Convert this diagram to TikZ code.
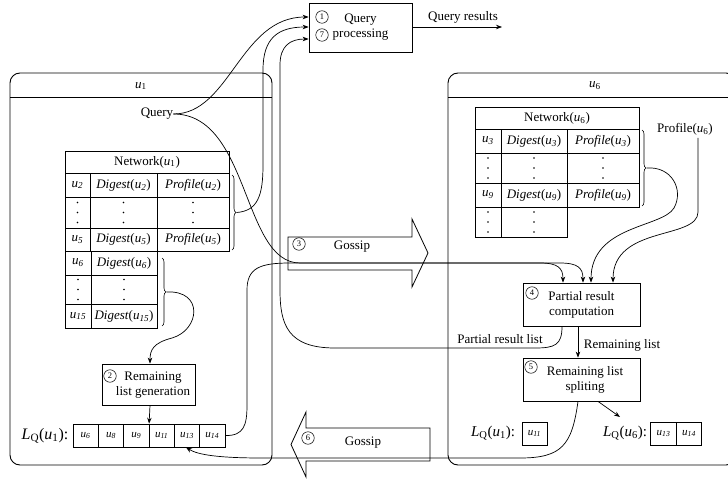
\documentclass[tikz,border=0pt]{standalone}
\usepackage{fontspec}
\setmainfont{Liberation Serif}
\usetikzlibrary{arrows.meta,decorations.pathreplacing,calc}
\newcommand{\ui}[1]{\textit{u}\textsubscript{#1}}
\newcommand{\iu}[1]{\textit{u\textsubscript{#1}}}
\newcommand{\cellnode}[6]{\node[cellbox, minimum width=#4, minimum height=#5] (#1) at (#2,#3) {#6};}
\newcommand{\dotcol}[2]{\fill (#1,#2-10) circle (0.9) (#1,#2) circle (0.9) (#1,#2+10) circle (0.9);}
\newcommand{\LQ}[1]{\textit{L}\textsubscript{Q}(\textit{u}\textsubscript{#1}):}
\begin{document}
\begin{tikzpicture}[x=1pt,y=-1pt,
 every node/.append style={font=\fontsize{13}{15}\selectfont, inner sep=0pt},
 cellbox/.style={draw, line width=0.7pt, inner sep=0pt},
 procbox/.style={draw, line width=0.8pt, inner sep=0pt, align=center},
 conn/.style={line width=0.7pt},
 arr/.style={line width=0.7pt, -{Stealth[length=6pt,width=4.5pt]}},
 num/.style={circle, draw, line width=0.5pt, inner sep=0pt, minimum size=12.5pt, font=\fontsize{8.5}{8.5}\selectfont},
 brc/.style={decorate, decoration={brace, amplitude=4pt}, line width=0.6pt},
 frame/.style={line width=0.9pt, rounded corners=10pt},
 gossip/.style={line width=0.8pt, line join=miter}]

\useasboundingbox (0,0) rectangle (728,481);

% ---------- frames ----------
\draw[frame] (10,73) rectangle (272,465);
\draw[line width=0.9pt] (10,97) -- (272,97);
\node (u1lab) at (141,86) {\ui{1}};

\draw[frame] (448,73) rectangle (736,465);
\draw[line width=0.9pt] (448,97) -- (728,97);
\node (u6lab) at (595,86) {\ui{6}};

% ---------- Query processing ----------
\node[procbox, minimum width=103, minimum height=49] (qp) at (360.5,27.5) {Query\\processing};
\node[num] (c1) at (322,17) {1};
\node[num] (c7) at (322,35) {7};
\coordinate (qr) at (502,27);
\draw[arr] ([yshift=0.5pt]qp.east) -- (qr);
\node (qrl) at (463,17) {Query results};

% ---------- Network(u1) table ----------
\cellnode{nh}{147}{162}{164}{22}{Network(\ui{1})}
\cellnode{na1}{77.5}{185}{25}{24}{\iu{2}}
\cellnode{na2}{123.5}{185}{67}{24}{\textit{Digest}(\iu{2})}
\cellnode{na3}{193}{185}{72}{24}{\textit{Profile}(\iu{2})}
\cellnode{nb1}{77.5}{212.5}{25}{31}{}
\cellnode{nb2}{123.5}{212.5}{67}{31}{}
\cellnode{nb3}{193}{212.5}{72}{31}{}
\dotcol{77.5}{212.5}\dotcol{123.5}{212.5}\dotcol{193}{212.5}
\cellnode{nc1}{77.5}{239.5}{25}{23}{\iu{5}}
\cellnode{nc2}{123.5}{239.5}{67}{23}{\textit{Digest}(\iu{5})}
\cellnode{nc3}{193}{239.5}{72}{23}{\textit{Profile}(\iu{5})}
\cellnode{nd1}{78}{263}{26}{24}{\iu{6}}
\cellnode{nd2}{124}{263}{66}{24}{\textit{Digest}(\iu{6})}
\cellnode{ne1}{78}{289.5}{26}{29}{}
\cellnode{ne2}{124}{289.5}{66}{29}{}
\dotcol{78}{289.5}\dotcol{124}{289.5}
\cellnode{nf1}{78}{316}{26}{24}{\iu{15}}
\cellnode{nf2}{124}{316}{66}{24}{\textit{Digest}(\iu{15})}

\draw[brc] (232,175) -- (232,250);
\coordinate (tipA) at (236.5,212.5);
\draw[brc] (162,258) -- (162,326);
\coordinate (tipB) at (166.5,292);

% ---------- Query ----------
\node (q) at (157,114) {Query};

% ---------- Remaining list generation ----------
\node[procbox, minimum width=93, minimum height=41] (rlg) at (148.5,384.5) {};
\node[align=center] (rlgt) at (153,385) {Remaining\\list generation};
\node[num] (c2) at (110,376) {2};

% ---------- LQ(u1) list ----------
\node (lq1) at (45,436) {\fontsize{16}{16}\selectfont\LQ{1}};
\cellnode{l1}{85.6}{435.5}{25.3}{23}{\fontsize{11}{11}\selectfont\iu{6}}
\cellnode{l2}{111}{435.5}{25.3}{23}{\fontsize{11}{11}\selectfont\iu{8}}
\cellnode{l3}{136.3}{435.5}{25.3}{23}{\fontsize{11}{11}\selectfont\iu{9}}
\cellnode{l4}{161.6}{435.5}{25.3}{23}{\fontsize{11}{11}\selectfont\iu{11}}
\cellnode{l5}{187}{435.5}{25.3}{23}{\fontsize{11}{11}\selectfont\iu{13}}
\cellnode{l6}{212.3}{435.5}{25.3}{23}{\fontsize{11}{11}\selectfont\iu{14}}

% ---------- Gossip arrows ----------
\draw[gossip] (288,237) -- (412,237) -- (412,219) -- (428,253) -- (412,287) -- (412,270) -- (288,270) -- cycle;
\node[num] (c3) at (299,244) {3};
\node (g3) at (352,247) {Gossip};

\draw[gossip] (430,428) -- (306,428) -- (306,412) -- (291,444.5) -- (306,477) -- (306,461) -- (430,461) -- cycle;
\node[num] (c6) at (308,438) {6};
\node (g6) at (363,443) {Gossip};

% ---------- Network(u6) table ----------
\cellnode{mh}{557}{118}{164}{22}{Network(\ui{6})}
\cellnode{ma1}{488}{141}{26}{24}{\iu{3}}
\cellnode{ma2}{534}{141}{66}{24}{\textit{Digest}(\iu{3})}
\cellnode{ma3}{603}{141}{72}{24}{\textit{Profile}(\iu{3})}
\cellnode{mb1}{488}{168}{26}{30}{}
\cellnode{mb2}{534}{168}{66}{30}{}
\cellnode{mb3}{603}{168}{72}{30}{}
\dotcol{488}{168}\dotcol{534}{168}\dotcol{603}{168}
\cellnode{mc1}{488}{195}{26}{24}{\iu{9}}
\cellnode{mc2}{534}{195}{66}{24}{\textit{Digest}(\iu{9})}
\cellnode{mc3}{603}{195}{72}{24}{\textit{Profile}(\iu{9})}
\cellnode{md1}{488}{222}{26}{30}{}
\cellnode{md2}{534}{222}{66}{30}{}
\dotcol{488}{222}\dotcol{534}{222}

\draw[brc] (642,130) -- (642,206);
\coordinate (tipC) at (646.5,168);

\node (prof) at (685,129) {Profile(\ui{6})};
\coordinate (pf) at (698,138);

% ---------- Partial result computation ----------
\node[procbox, minimum width=117, minimum height=43] (prc) at (581.5,304.5) {Partial result\\computation};
\node[num] (c4) at (532,293) {4};

\node[procbox, minimum width=117, minimum height=43] (rls) at (581.5,379.5) {};
\node[align=center] (rlst) at (585,379.5) {Remaining list\\spliting};
\node[num] (c5) at (531,367) {5};

\node (prl) at (500,339) {Partial result list};
\node (rml) at (622,345) {Remaining list};

% LQ in u6
\node (lq1b) at (493,433.5) {\fontsize{15}{15}\selectfont\LQ{1}};
\cellnode{k1}{534.5}{433.5}{25}{23}{\fontsize{11}{11}\selectfont\iu{11}}
\node (lq6) at (625,433.5) {\fontsize{15}{15}\selectfont\LQ{6}};
\cellnode{k2}{663.5}{433.5}{25.5}{23}{\fontsize{11}{11}\selectfont\iu{13}}
\cellnode{k3}{689}{433.5}{25.5}{23}{\fontsize{11}{11}\selectfont\iu{14}}

% ---------- connectors ----------
% Query -> QP (1)
\draw[arr] (q.east) .. controls (230,114) and (240,17) .. ([yshift=10.5pt]qp.west);
% brace A -> QP
\draw[arr] (tipA) .. controls (258,211) and (263,195) .. (263,165) -- (263,70) .. controls (263,38) and (278,27) .. ([yshift=0.5pt]qp.west);
% partial result list -> QP (7)
\draw[arr] ([xshift=-19.5pt]prc.south) .. controls (562,345) and (555,348) .. (535,348) -- (335,348) .. controls (288,348) and (280,325) .. (280,290) -- (280,65) .. controls (280,46) and (290,39) .. ([yshift=-11.5pt]qp.west);
% Query -> partial computation
\draw[arr] (q.east) .. controls (250,114) and (242,263) .. (300,263) -- (540,263) .. controls (558,263) and (563,268) .. ([xshift=-18.5pt]prc.north);
% LQ(u1) -> partial computation
\draw[arr] (l6.east) .. controls (244,436) and (247,425) .. (247,405) -- (247,290) .. controls (247,268) and (260,263) .. (290,263) -- (560,263) .. controls (578,263) and (583,268) .. ([xshift=1.5pt]prc.north);
% brace C -> partial computation
\draw[arr] (tipC) .. controls (672,166) and (684,190) .. (674,208) .. controls (662,228) and (591,225) .. ([xshift=9.5pt]prc.north);
% Profile(u6) -> partial computation
\draw[arr] (pf) -- (698,212) .. controls (698,240) and (613,225) .. ([xshift=31.5pt]prc.north);
% remaining list
\draw[arr] ([xshift=-3.5pt]prc.south) -- ([xshift=-3.5pt]rls.north);
\draw[arr] ([xshift=16.5pt]rls.south) -- (620,417);
% split -> LQ(u1) in u1
\draw[arr] ([xshift=-3.5pt]rls.south) .. controls (572,445) and (562,458) .. (520,458) -- (262,458) .. controls (220,458) and (198,455) .. ([xshift=-1pt]l5.south);
% brace B -> remaining list generation
\draw[arr] (tipB) .. controls (204,290) and (200,330) .. (172,338) .. controls (153,343) and (150,350) .. ([xshift=1.5pt]rlg.north);
\draw[arr] ([xshift=1.5pt]rlg.south) -- ([xshift=0.5pt]l4.north west);
\end{tikzpicture}
\end{document}
